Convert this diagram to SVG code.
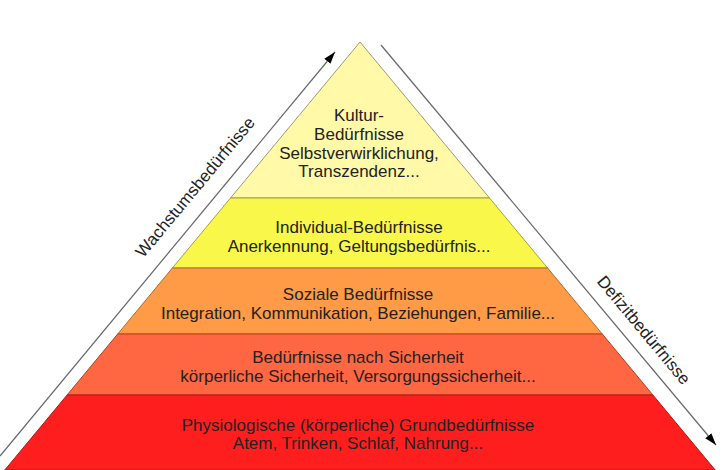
<svg xmlns="http://www.w3.org/2000/svg" width="725" height="470" viewBox="0 0 725 470">
<defs>
<style>
.t{font-family:"Liberation Sans",Arial,sans-serif;font-size:17px;fill:#222;text-anchor:middle}
.band{stroke-width:1}
.ln{stroke:#666;stroke-width:1.2;fill:none}
</style>
<marker id="ah" viewBox="0 0 12 8" refX="12" refY="4" markerWidth="12" markerHeight="8" markerUnits="userSpaceOnUse" orient="auto">
<path d="M0,0 L12,4 L0,8 Z" fill="#000"/>
</marker>
</defs>
<rect width="725" height="470" fill="#fff"/>
<g id="band-kultur">
<polygon class="band" points="360,42 489.5,198 230.5,198" fill="#FFF9A8" stroke="#9a9a70"/>
<text class="t" x="359" y="121">Kultur-</text>
<text class="t" x="359" y="140">Bedürfnisse</text>
<text class="t" x="359" y="158.5">Selbstverwirklichung,</text>
<text class="t" x="359" y="177">Transzendenz...</text>
</g>
<g id="band-individual">
<polygon class="band" points="230.5,198 489.5,198 547.6,268 172.4,268" fill="#F8F74A" stroke="#a8a040"/>
<text class="t" x="359" y="233">Individual-Bedürfnisse</text>
<text class="t" x="359" y="252">Anerkennung, Geltungsbedürfnis...</text>
</g>
<g id="band-sozial">
<polygon class="band" points="172.4,268 547.6,268 602.3,334 117.7,334" fill="#FF9A46" stroke="#b06a30"/>
<text class="t" x="358" y="300">Soziale Bedürfnisse</text>
<text class="t" x="358" y="319">Integration, Kommunikation, Beziehungen, Familie...</text>
</g>
<g id="band-sicherheit">
<polygon class="band" points="117.7,334 602.3,334 652.9,395 67.1,395" fill="#FF6642" stroke="#b04020"/>
<text class="t" x="358" y="363">Bedürfnisse nach Sicherheit</text>
<text class="t" x="358" y="382">körperliche Sicherheit, Versorgungssicherheit...</text>
</g>
<g id="band-physiologisch">
<polygon class="band" points="67.1,395 652.9,395 715.2,470 4.8,470" fill="#FF1E1E" stroke="#b01818"/>
<text class="t" x="358" y="431">Physiologische (körperliche) Grundbedürfnisse</text>
<text class="t" x="358" y="449">Atem, Trinken, Schlaf, Nahrung...</text>
</g>
<g id="connectors">
<line class="ln" x1="0" y1="456" x2="335" y2="52" marker-end="url(#ah)"/>
<line class="ln" x1="381" y1="45" x2="716" y2="445" marker-end="url(#ah)"/>
</g>
<g id="label-wachstum">
<text class="t" transform="translate(199.6,190.8) rotate(-50.3)">Wachstumsbedürfnisse</text>
</g>
<g id="label-defizit">
<text class="t" transform="translate(639.4,333.8) rotate(50.3)">Defizitbedürfnisse</text>
</g>
</svg>
